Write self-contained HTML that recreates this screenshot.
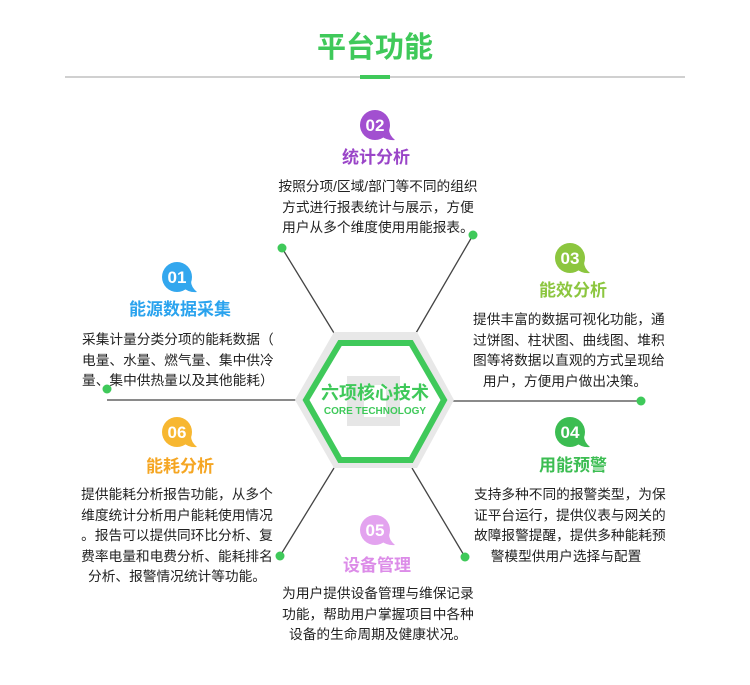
<!DOCTYPE html>
<html><head><meta charset="utf-8"><style>
body{margin:0;background:#fff;}
#c{position:relative;width:750px;height:685px;overflow:hidden;font-family:"Liberation Sans","Noto Sans CJK SC",sans-serif;color:#222;}
.t{position:absolute;font-size:13.7px;line-height:20.5px;white-space:nowrap;}
.h{position:absolute;font-size:17px;font-weight:bold;white-space:nowrap;transform:translateX(-50%);line-height:20px;}
</style></head><body><div id="c">
<div style="position:absolute;left:0;width:750px;top:31px;text-align:center;font-size:29px;font-weight:bold;color:#3fc95a;line-height:34px;">平台功能</div>
<div style="position:absolute;left:65px;width:620px;top:76px;height:2px;background:#d0d0d0"></div>
<div style="position:absolute;left:360px;width:30px;top:75px;height:4px;background:#3fc95a"></div>
<svg width="750" height="685" style="position:absolute;left:0;top:0">
<g stroke="#444" stroke-width="1.3">
<line x1="107" y1="400" x2="296" y2="400"/><line x1="453" y1="401" x2="641" y2="401"/>
<line x1="282" y1="248" x2="334" y2="333"/><line x1="473" y1="235" x2="416" y2="333"/>
<line x1="280" y1="556" x2="334" y2="468"/><line x1="465" y1="557" x2="412" y2="468"/>
</g>
<g fill="#3fc95a"><circle cx="107" cy="389" r="4.5"/><circle cx="641" cy="401" r="4.5"/><circle cx="282" cy="248" r="4.5"/><circle cx="473" cy="235" r="4.5"/><circle cx="280" cy="556" r="4.5"/><circle cx="465" cy="557" r="4.5"/></g>
<polygon points="295,400 334,332 417,332 454,400 417,468 334,468" fill="#e8e8e8"/>
<polygon points="306,400 340,343 411,343 444,400 411,460 340,460" fill="#fff" stroke="#3fc95a" stroke-width="6"/>
<rect x="347" y="376" width="53" height="50" fill="#e6e6e6"/><rect x="364" y="385" width="22" height="32" fill="#fff"/>
</svg>
<div style="position:absolute;left:300px;width:150px;top:382px;text-align:center;color:#3fc95a;font-weight:bold;font-size:18px;line-height:22px;">六项核心技术</div>
<div style="position:absolute;left:300px;width:150px;top:405px;text-align:center;color:#3fc95a;font-weight:bold;font-size:10px;line-height:13px;">CORE TECHNOLOGY</div>

<svg width="750" height="685" style="position:absolute;left:0;top:0">
<defs><g id="bb"><circle cx="0" cy="0" r="15"/><path d="M5,10 Q12,16 20,15 Q14,10 14,4 Z"/></g></defs>
<g fill="#33a7ee"><use href="#bb" x="177" y="277"/></g>
<g fill="#a24fd0"><use href="#bb" x="375" y="125"/></g>
<g fill="#8cc63f"><use href="#bb" x="570" y="258"/></g>
<g fill="#3cbd52"><use href="#bb" x="570" y="432"/></g>
<g fill="#e3a3ef"><use href="#bb" x="375" y="530"/></g>
<g fill="#f7b731"><use href="#bb" x="177" y="432"/></g>
<g fill="#fff" font-family="Liberation Sans,sans-serif" font-weight="bold" font-size="17" text-anchor="middle">
<text x="177" y="283">01</text><text x="375" y="131">02</text><text x="570" y="264">03</text><text x="570" y="438">04</text><text x="375" y="536">05</text><text x="177" y="438">06</text>
</g></svg>

<div class="h" style="left:180px;top:300px;color:#2aa3ee">能源数据采集</div>
<div class="t" style="left:82px;top:330px">采集计量分类分项的能耗数据（<br>电量、水量、燃气量、集中供冷<br>量、集中供热量以及其他能耗）</div>

<div class="h" style="left:376px;top:148px;color:#9a45c8">统计分析</div>
<div class="t" style="left:268px;width:220px;text-align:center;top:177px">按照分项/区域/部门等不同的组织<br>方式进行报表统计与展示，方便<br>用户从多个维度使用用能报表。</div>

<div class="h" style="left:573px;top:281px;color:#8cc63f">能效分析</div>
<div class="t" style="left:473px;width:184px;text-align:center;top:310px">提供丰富的数据可视化功能，通<br>过饼图、柱状图、曲线图、堆积<br>图等将数据以直观的方式呈现给<br>用户，方便用户做出决策。</div>

<div class="h" style="left:573px;top:456px;color:#3cbd52">用能预警</div>
<div class="t" style="left:474px;width:184px;text-align:center;top:485px">支持多种不同的报警类型，为保<br>证平台运行，提供仪表与网关的<br>故障报警提醒，提供多种能耗预<br>警模型供用户选择与配置</div>

<div class="h" style="left:377px;top:556px;color:#dc8ce8">设备管理</div>
<div class="t" style="left:276px;width:204px;text-align:center;top:584px">为用户提供设备管理与维保记录<br>功能，帮助用户掌握项目中各种<br>设备的生命周期及健康状况。</div>

<div class="h" style="left:180px;top:457px;color:#f5a623">能耗分析</div>
<div class="t" style="left:80px;width:194px;text-align:center;top:485px">提供能耗分析报告功能，从多个<br>维度统计分析用户能耗使用情况<br>。报告可以提供同环比分析、复<br>费率电量和电费分析、能耗排名<br>分析、报警情况统计等功能。</div>
</div></body></html>
